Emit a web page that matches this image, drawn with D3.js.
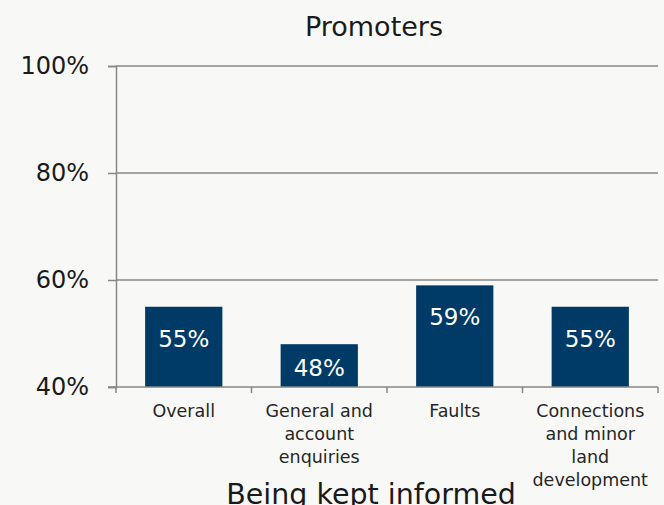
<!DOCTYPE html>
<html>
<head>
<meta charset="utf-8">
<script src="https://cdn.jsdelivr.net/npm/d3@7"></script>
<style>
  html, body { margin: 0; padding: 0; background: #f8f8f6; }
  svg { display: block; font-family: "DejaVu Sans", "Open Sans", sans-serif; }
</style>
</head>
<body>
<svg id="chart" width="664" height="505"></svg>
<script>
// Promoters share by contact type
const categories = ["Overall", "General and account enquiries", "Faults", "Connections and minor land development"];
const categoryLines = [["Overall"], ["General and", "account", "enquiries"], ["Faults"], ["Connections", "and minor", "land", "development"]];
const values = [55, 48, 59, 55];
const yTicks = [40, 60, 80, 100];
const title = "Promoters";
const xTitle = "Being kept informed";

const svg = d3.select("#chart");
const W = 664, H = 505;
const margin = { left: 116, right: 6, top: 66, bottom: 118 };

svg.append("rect").attr("width", W).attr("height", H).attr("fill", "#f8f8f6");

const x = d3.scaleBand()
  .domain(categories)
  .range([margin.left, W - margin.right])
  .paddingInner(0.43)
  .paddingOuter(0.215);

const y = d3.scaleLinear()
  .domain([40, 100])
  .range([H - margin.bottom, margin.top]);

const gridColor = "#878787";
const textColor = "#1a1a1a";

// horizontal gridlines
svg.append("g")
  .selectAll("line")
  .data(yTicks.filter(t => t > 40))
  .join("line")
  .attr("x1", margin.left)
  .attr("x2", W - margin.right)
  .attr("y1", d => y(d))
  .attr("y2", d => y(d))
  .attr("stroke", gridColor)
  .attr("stroke-width", 1.5);

// y axis
const yAxis = svg.append("g")
  .attr("transform", `translate(${margin.left},0)`)
  .call(d3.axisLeft(y).tickValues(yTicks).tickFormat(d => d + "%").tickSize(8).tickPadding(19));
yAxis.select(".domain").attr("stroke", gridColor).attr("stroke-width", 1.5);
yAxis.selectAll(".tick line").attr("stroke", gridColor).attr("stroke-width", 1.5);
yAxis.selectAll(".tick text")
  .attr("font-size", 24)
  .attr("fill", textColor)
  .attr("font-family", "'DejaVu Sans', sans-serif");

const base = y(40);

// bars
svg.append("g")
  .selectAll("rect")
  .data(values)
  .join("rect")
  .attr("x", (d, i) => x(categories[i]))
  .attr("width", x.bandwidth())
  .attr("y", d => y(d))
  .attr("height", d => base - y(d))
  .attr("fill", "#003a66");

// value labels: near the bar top, or centred when the bar is short
svg.append("g")
  .selectAll("text")
  .data(values)
  .join("text")
  .attr("x", (d, i) => x(categories[i]) + x.bandwidth() / 2)
  .attr("y", d => Math.min(y(d) + 40, (y(d) + base) / 2 + 10))
  .attr("text-anchor", "middle")
  .attr("font-size", 23)
  .attr("fill", "#ffffff")
  .text(d => d + "%");

// x axis baseline with boundary ticks
svg.append("line")
  .attr("x1", margin.left - 8).attr("x2", W - margin.right)
  .attr("y1", base).attr("y2", base)
  .attr("stroke", gridColor).attr("stroke-width", 1.5);

const boundaries = d3.range(categories.length + 1)
  .map(i => margin.left + i * (W - margin.right - margin.left) / categories.length);
svg.append("g")
  .selectAll("line")
  .data(boundaries)
  .join("line")
  .attr("x1", d => d).attr("x2", d => d)
  .attr("y1", base).attr("y2", base + 6)
  .attr("stroke", gridColor).attr("stroke-width", 1.5);

// category labels
const catG = svg.append("g");
categoryLines.forEach((lines, i) => {
  const cx = x(categories[i]) + x.bandwidth() / 2;
  const t = catG.append("text")
    .attr("text-anchor", "middle")
    .attr("font-size", 17.5)
    .attr("fill", "#262626");
  lines.forEach((ln, j) => {
    t.append("tspan").attr("x", cx).attr("y", base + 30 + j * 23).text(ln);
  });
});

// chart title
svg.append("text")
  .attr("x", 374).attr("y", 36)
  .attr("text-anchor", "middle")
  .attr("font-size", 27)
  .attr("fill", textColor)
  .text(title);

// x axis title
svg.append("text")
  .attr("x", 371).attr("y", 504)
  .attr("text-anchor", "middle")
  .attr("font-size", 28.5)
  .attr("fill", textColor)
  .text(xTitle);
</script>
</body>
</html>
